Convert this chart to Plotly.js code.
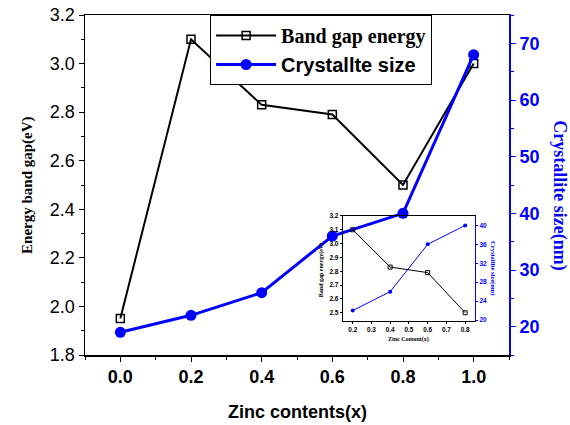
<!DOCTYPE html>
<html><head><meta charset="utf-8">
<script src="https://cdn.plot.ly/plotly-3.0.1.min.js"></script>
<style>html,body{margin:0;padding:0;background:#fff}</style>
</head><body>
<div id="chart" style="width:570px;height:425px"></div>
<script>
const zinc = [0, 0.2, 0.4, 0.6, 0.8, 1.0];
const bandGap = [1.95, 3.10, 2.83, 2.79, 2.50, 3.00];
const crystSize = [19, 22, 26, 36, 40, 68];
const insetZinc = [0.2, 0.4, 0.6, 0.8];
const insetBandGap = [3.10, 2.83, 2.79, 2.50];
const insetCryst = [22, 26, 36, 40];
const mainXTicks = [0, 0.2, 0.4, 0.6, 0.8, 1.0];
const mainXLabels = ['0.0', '0.2', '0.4', '0.6', '0.8', '1.0'];

const SANS = 'Liberation Sans, Arial, sans-serif';
const SERIF = 'Liberation Serif, Times New Roman, serif';
const BLUE = '#0000ff';

const traces = [
  {x: zinc, y: bandGap, xaxis: 'x', yaxis: 'y', type: 'scatter', mode: 'lines+markers',
   name: '<span style="font-family:Liberation Serif">Band gap energy</span>',
   line: {color: '#000', width: 2},
   marker: {symbol: 'square-open', size: 8, color: '#000', line: {width: 1.5, color: '#000'}}},
  {x: zinc, y: crystSize, xaxis: 'x', yaxis: 'y2', type: 'scatter', mode: 'lines+markers',
   name: 'Crystallte size',
   line: {color: BLUE, width: 3},
   marker: {symbol: 'circle', size: 11, color: BLUE}},
  {x: insetZinc, y: insetBandGap, xaxis: 'x2', yaxis: 'y3', type: 'scatter', mode: 'lines+markers',
   showlegend: false, line: {color: '#000', width: 1},
   marker: {symbol: 'square-open', size: 4, color: '#000', line: {width: 1, color: '#000'}}},
  {x: insetZinc, y: insetCryst, xaxis: 'x2', yaxis: 'y4', type: 'scatter', mode: 'lines+markers',
   showlegend: false, line: {color: BLUE, width: 1},
   marker: {symbol: 'circle', size: 4, color: BLUE}}
];

function ann(text, x, y, angle, font) {
  return {text: text, xref: 'paper', yref: 'paper', x: x, y: y, textangle: angle,
          xanchor: 'center', yanchor: 'middle', showarrow: false, font: font};
}

const layout = {
  width: 570, height: 425,
  margin: {l: 85, r: 61, t: 15, b: 70},
  paper_bgcolor: '#fff', plot_bgcolor: 'rgba(0,0,0,0)',
  showlegend: true,
  legend: {x: 0.295, y: 1.0, xanchor: 'left', yanchor: 'top',
    bgcolor: '#fff', bordercolor: '#000', borderwidth: 1,
    font: {family: SANS, size: 20, color: '#000', weight: 'bold'},
    itemwidth: 60, tracegroupgap: 0},
  xaxis: {domain: [0, 1], range: [-0.1, 1.1], tickvals: mainXTicks, ticktext: mainXLabels,
    showline: true, linecolor: '#000', linewidth: 1.5, mirror: true,
    ticks: 'outside', ticklen: 5, tickcolor: '#000', showgrid: false, zeroline: false,
    minor: {dtick: 0.1, ticks: 'outside', ticklen: 3, tickcolor: '#000'},
    tickfont: {family: SANS, size: 18, color: '#000', weight: 'bold'}},
  yaxis: {domain: [0, 1], range: [1.8, 3.2], dtick: 0.2, tickformat: '.1f',
    showline: true, linecolor: '#000', linewidth: 1.5,
    ticks: 'outside', ticklen: 5, tickcolor: '#000', showgrid: false, zeroline: false,
    minor: {dtick: 0.1, ticks: 'outside', ticklen: 3, tickcolor: '#000'},
    tickfont: {family: SANS, size: 18, color: '#000'}},
  yaxis2: {overlaying: 'y', side: 'right', range: [15, 75], dtick: 10,
    showline: true, linecolor: BLUE, linewidth: 2,
    ticks: 'outside', ticklen: 5, tickcolor: BLUE, showgrid: false, zeroline: false,
    minor: {dtick: 5, ticks: 'outside', ticklen: 3, tickcolor: BLUE},
    tickfont: {family: SANS, size: 18, color: BLUE, weight: 'bold'}},
  xaxis2: {anchor: 'y3', domain: [0.608, 0.920], range: [0.147, 0.853], dtick: 0.1, tickformat: '.1f',
    showline: true, linecolor: '#000', linewidth: 1, mirror: true,
    ticks: 'outside', ticklen: 2, tickcolor: '#000', showgrid: false, zeroline: false,
    tickfont: {family: SANS, size: 6.5, color: '#000', weight: 'bold'}},
  yaxis3: {anchor: 'x2', domain: [0.1, 0.409], range: [2.44, 3.2], dtick: 0.1, tickformat: '.1f',
    showline: true, linecolor: '#000', linewidth: 1,
    ticks: 'outside', ticklen: 2, tickcolor: '#000', showgrid: false, zeroline: false,
    tickfont: {family: SANS, size: 6.5, color: '#000', weight: 'bold'}},
  yaxis4: {anchor: 'x2', overlaying: 'y3', side: 'right', range: [19.8, 42], dtick: 4,
    showline: true, linecolor: BLUE, linewidth: 1,
    ticks: 'outside', ticklen: 2, tickcolor: BLUE, showgrid: false, zeroline: false,
    tickfont: {family: SANS, size: 6.5, color: BLUE, weight: 'bold'}},
  annotations: [
    ann('Energy band gap(eV)', -0.137, 0.5, -90, {family: SERIF, size: 15, color: '#000', weight: 'bold'}),
    ann('Crystallite size(nm)', 1.12, 0.47, 90, {family: SERIF, size: 18, color: BLUE, weight: 'bold'}),
    ann('Zinc contents(x)', 0.5, -0.168, 0, {family: SANS, size: 18, color: '#000', weight: 'bold'}),
    ann('Band gap energy(eV)', 0.557, 0.25, -90, {family: SERIF, size: 6, color: '#000', weight: 'bold'}),
    ann('Crystallite size(nm)', 0.962, 0.256, 90, {family: SERIF, size: 6.5, color: BLUE, weight: 'bold'}),
    ann('Zinc Content(x)', 0.764, 0.045, 0, {family: SERIF, size: 6, color: '#000', weight: 'bold'})
  ]
};

Plotly.newPlot('chart', traces, layout, {displayModeBar: false, staticPlot: true});
</script>
</body></html>
